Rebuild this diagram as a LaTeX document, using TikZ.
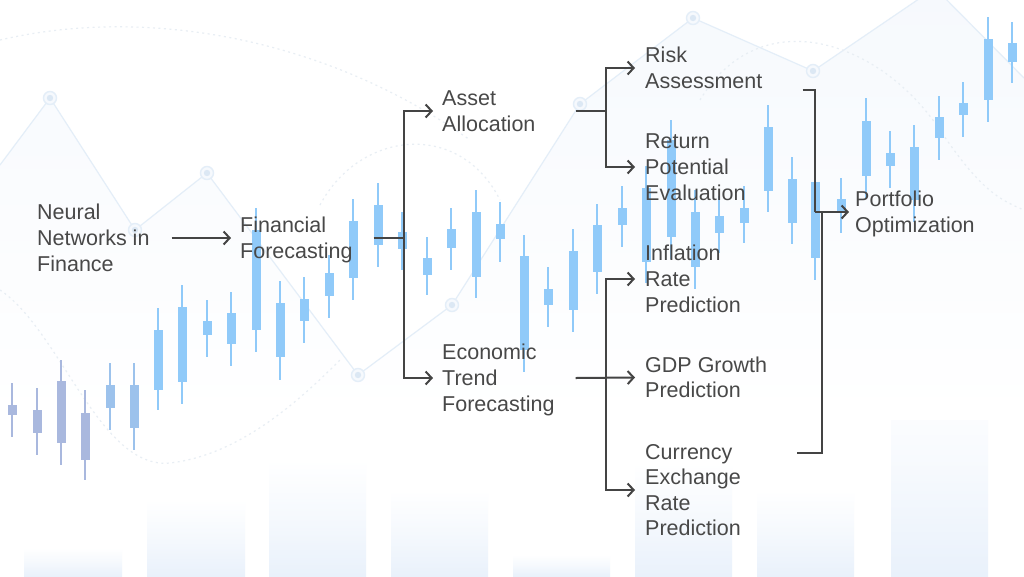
\documentclass[tikz,border=0pt]{standalone}
\usepackage{fontspec}
\setmainfont{Liberation Sans}
\usetikzlibrary{arrows.meta}
\definecolor{txt}{HTML}{484848}
\definecolor{ln}{HTML}{444444}
\definecolor{cndb}{HTML}{90CAF9}
\definecolor{cndp}{HTML}{A9B8DE}
\definecolor{cndm}{HTML}{9CC2EC}
\definecolor{bgl}{HTML}{E4EEF8}
\definecolor{bgk}{HTML}{DCE8F4}
\definecolor{bgf}{HTML}{F6F9FD}
\definecolor{bgd}{HTML}{E8EEF4}
\definecolor{barc}{HTML}{E9F1FB}
\newcommand\lstrut{\rule[-5.3pt]{0pt}{25.6pt}}
\newcommand\mycandle[6]{%
  \draw[#6, line width=1.4pt] (#1,#2) -- (#1,#5);
  \fill[#6] (#1-4.5,#3) rectangle (#1+4.5,#4);}
\newcommand\mymark[1]{%
  \fill[bgf] (#1) circle (6.5);
  \draw[bgl, line width=1.4pt] (#1) circle (6.5);
  \fill[bgk] (#1) circle (3.2);}
\begin{document}
\begin{tikzpicture}[x=1pt,y=-1pt,
  lbl/.style={anchor=west, inner sep=0pt, align=left, text=txt,
    font=\fontsize{21.5}{25.6}\selectfont},
  conn/.style={draw=ln, line width=2pt},
  arr/.style={conn, -{Straight Barb[length=6pt,width=13pt]}},
  faintdot/.style={draw=bgd, line width=1.2pt, dash pattern=on 2pt off 3.5pt},
  bgbar/.style={top color=white, bottom color=barc, middle color=barc!45!white},
]
\useasboundingbox (0,0) rectangle (1024,576);
\fill[white] (0,0) rectangle (1024,576);
\begin{scope}
\clip (0,0) rectangle (1024,576);
% pale bars at the bottom
\shade[bgbar] (24,548) rectangle (122,576);
\shade[bgbar] (147,500) rectangle (245,576);
\shade[bgbar] (269,460) rectangle (366,576);
\shade[bgbar] (391,490) rectangle (488,576);
\shade[bgbar] (513,555) rectangle (610,576);
\shade[bgbar] (635,463) rectangle (732,576);
\shade[bgbar] (757,490) rectangle (854,576);
\shade[bgbar] (891,380) rectangle (988,576);
% faint line chart
\shade[top color=bgf, bottom color=white] (0,165) -- (50,98) -- (135,230) -- (207,173) -- (358,375) -- (452,305) -- (580,104) -- (693,18) -- (813,71) -- (935,-12) -- (1024,78) -- (1024,420) -- (0,420) -- cycle;
\draw[bgl, line width=1.2pt] (0,165) -- (50,98) -- (135,230) -- (207,173) -- (358,375) -- (452,305) -- (580,104) -- (693,18) -- (813,71) -- (935,-12) -- (1024,78);
\mymark{50,98}
\mymark{135,230}
\mymark{207,173}
\mymark{358,375}
\mymark{452,305}
\mymark{580,104}
\mymark{693,18}
\mymark{813,71}
% faint dotted curves
\draw[faintdot] (0,40) .. controls (150,5) and (330,40) .. (470,140);
\draw[faintdot] (320,205) .. controls (360,130) and (460,120) .. (500,200);
\draw[faintdot] (0,290) .. controls (60,330) and (100,470) .. (170,463) .. controls (240,455) and (300,400) .. (340,360);
\draw[faintdot] (700,100) .. controls (760,0) and (880,40) .. (940,130) .. controls (980,190) and (1000,200) .. (1024,210);
% candlesticks
\mycandle{12}{383}{405}{415}{437}{cndp}
\mycandle{37}{388}{410}{433}{455}{cndp}
\mycandle{61}{360}{381}{443}{465}{cndp}
\mycandle{85}{390}{413}{460}{480}{cndp}
\mycandle{110}{363}{385}{408}{430}{cndm}
\mycandle{134}{363}{385}{428}{450}{cndm}
\mycandle{158}{308}{330}{390}{410}{cndb}
\mycandle{182}{285}{307}{382}{404}{cndb}
\mycandle{207}{300}{321}{335}{357}{cndb}
\mycandle{231}{292}{313}{344}{366}{cndb}
\mycandle{256}{208}{230}{330}{352}{cndb}
\mycandle{280}{281}{303}{357}{380}{cndb}
\mycandle{304}{277}{299}{321}{343}{cndb}
\mycandle{329}{255}{273}{296}{318}{cndb}
\mycandle{353}{199}{221}{278}{300}{cndb}
\mycandle{378}{183}{205}{245}{267}{cndb}
\mycandle{402}{212}{232}{249}{270}{cndb}
\mycandle{427}{237}{258}{275}{295}{cndb}
\mycandle{451}{208}{229}{248}{270}{cndb}
\mycandle{476}{190}{212}{277}{298}{cndb}
\mycandle{500}{202}{224}{239}{262}{cndb}
\mycandle{524}{235}{256}{350}{372}{cndb}
\mycandle{548}{267}{289}{305}{327}{cndb}
\mycandle{573}{229}{251}{310}{332}{cndb}
\mycandle{597}{204}{225}{272}{294}{cndb}
\mycandle{622}{186}{208}{225}{247}{cndb}
\mycandle{646}{166}{188}{262}{283}{cndb}
\mycandle{671}{120}{140}{237}{259}{cndb}
\mycandle{695}{190}{212}{267}{289}{cndb}
\mycandle{719}{196}{216}{233}{253}{cndb}
\mycandle{744}{186}{208}{223}{243}{cndb}
\mycandle{768}{105}{127}{191}{212}{cndb}
\mycandle{792}{157}{179}{223}{244}{cndb}
\mycandle{815}{160}{182}{258}{280}{cndb}
\mycandle{841}{178}{199}{213}{233}{cndb}
\mycandle{866}{98}{121}{176}{198}{cndb}
\mycandle{890}{131}{153}{166}{188}{cndb}
\mycandle{914}{125}{147}{200}{222}{cndb}
\mycandle{939}{96}{117}{138}{160}{cndb}
\mycandle{963}{82}{103}{115}{137}{cndb}
\mycandle{988}{17}{39}{100}{122}{cndb}
\mycandle{1012}{22}{43}{62}{83}{cndb}
\end{scope}
% text nodes
\node[lbl] (nn)  at (37,238)  {\lstrut Neural\\\lstrut Networks in\\\lstrut Finance};
\node[lbl] (ff)  at (240,238) {\lstrut Financial\\\lstrut Forecasting};
\node[lbl] (aa)  at (442,111) {\lstrut Asset\\\lstrut Allocation};
\node[lbl] (ee)  at (442,378) {\lstrut Economic\\\lstrut Trend\\\lstrut Forecasting};
\node[lbl] (rk)  at (645,68)  {\lstrut Risk\\\lstrut Assessment};
\node[lbl] (rp)  at (645,167) {\lstrut Return\\\lstrut Potential\\\lstrut Evaluation};
\node[lbl] (ir)  at (645,279) {\lstrut Inflation\\\lstrut Rate\\\lstrut Prediction};
\node[lbl] (gdp) at (645,377.5) {\lstrut GDP Growth\\\lstrut Prediction};
\node[lbl] (cur) at (645,490) {\lstrut Currency\\\lstrut Exchange\\\lstrut Rate\\\lstrut Prediction};
\node[lbl] (po)  at (855,212) {\lstrut Portfolio\\\lstrut Optimization};
% junctions
\coordinate (j1) at (404,238);
\coordinate (j2) at (606,111);
\coordinate (j3) at (606,378);
\coordinate (j4) at (815,212);
\coordinate (j5) at (822,212);
% connectors
\draw[arr] ([xshift=22pt]nn.east) -- ([xshift=-9pt]ff.west);
\draw[conn] ([xshift=21pt]ff.east) -- (j1);
\draw[arr] (j1) |- ([xshift=-9pt]aa.west);
\draw[arr] (j1) |- ([xshift=-9pt]ee.west);
\draw[conn] ([xshift=40pt]aa.east) -- (j2);
\draw[arr] (j2) |- ([xshift=-10pt]rk.west);
\draw[arr] (j2) |- ([xshift=-10pt]rp.west);
\draw[arr] ([xshift=21pt]ee.east) -- ([xshift=-10pt]gdp.west);
\draw[arr] (j3) |- ([xshift=-10pt]ir.west);
\draw[arr] (j3) |- ([xshift=-10pt]cur.west);
\draw[conn] ([shift={(40,22)}]rk.east) -| (j4);
\draw[arr] (j4) -- ([xshift=-6pt]po.west);
\draw[conn] ([shift={(56,-37)}]cur.east) -| (j5);
\end{tikzpicture}
\end{document}
